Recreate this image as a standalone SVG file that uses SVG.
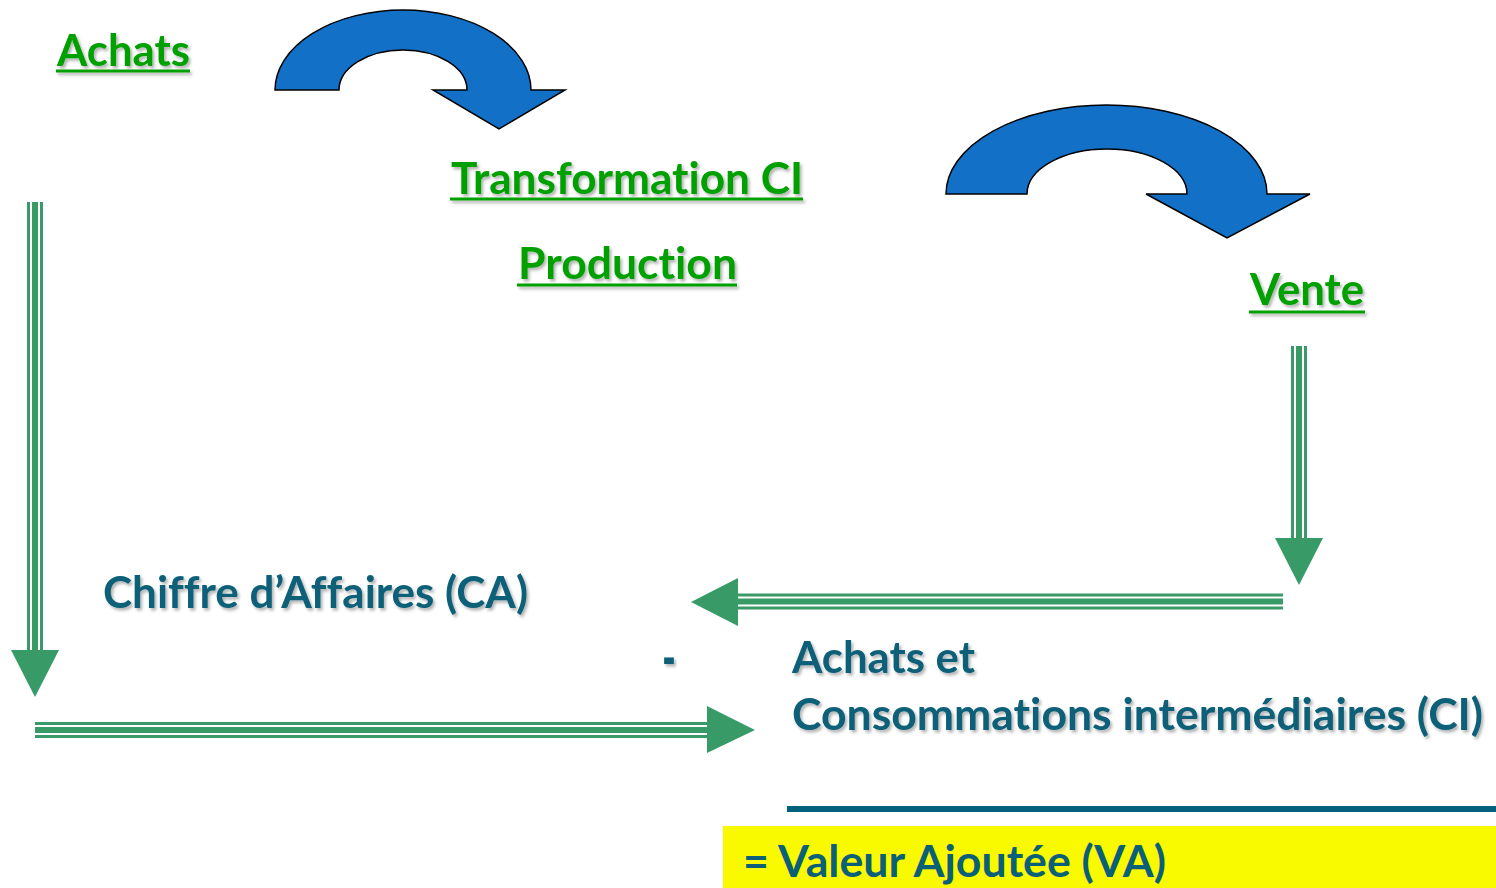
<svg xmlns="http://www.w3.org/2000/svg" width="1496" height="888" viewBox="0 0 1496 888">
<defs>
<filter id="sh" x="-5%" y="-20%" width="110%" height="150%">
<feDropShadow dx="2" dy="2.5" stdDeviation="1.6" flood-color="#000" flood-opacity="0.3"/>
</filter>
</defs>
<style>
.g,.t{font-family:Lato,"Open Sans","Liberation Sans",sans-serif;font-weight:bold;font-size:44px;font-variant-ligatures:none;font-feature-settings:"liga" 0,"clig" 0,"dlig" 0,"calt" 0}
.g{fill:#00A000}
.t{fill:#0A6078}
.u{stroke:#00A000;stroke-width:3}
.blue{fill:#1270C6;stroke:#000;stroke-width:1.5;stroke-linejoin:miter}
.s1{stroke:#389B67;stroke-width:16;fill:none}
.s2{stroke:#fff;stroke-width:10;fill:none}
.s3{stroke:#389B67;stroke-width:6;fill:none}
.hd{fill:#389B67}
</style>
<rect width="1496" height="888" fill="#fff"/>

<g id="curve-arrow-1">
<path class="blue" d="M275,90 A128,80 0 0 1 531,90 L565,90 L499,129 L433,90 L467,90 A64,40 0 0 0 339,90 Z"/>
</g>
<g id="curve-arrow-2">
<path class="blue" d="M946,194 A160.5,89 0 0 1 1267,194 L1310,194 L1227,238 L1146,194 L1187,194 A80,45 0 0 0 1027,194 Z"/>
</g>

<g id="connectors">
<g id="c-left-down">
<line class="s1" x1="35" y1="202" x2="35" y2="652"/>
<line class="s2" x1="35" y1="202" x2="35" y2="652"/>
<line class="s3" x1="35" y1="202" x2="35" y2="652"/>
<polygon class="hd" points="11,650 59,650 35,697"/>
</g>
<g id="c-bottom-right">
<line class="s1" x1="35" y1="730" x2="708" y2="730"/>
<line class="s2" x1="35" y1="730" x2="708" y2="730"/>
<line class="s3" x1="35" y1="730" x2="708" y2="730"/>
<polygon class="hd" points="707,706 707,753 755,730"/>
</g>
<g id="c-vente-down">
<line class="s1" x1="1299" y1="346" x2="1299" y2="540"/>
<line class="s2" x1="1299" y1="346" x2="1299" y2="540"/>
<line class="s3" x1="1299" y1="346" x2="1299" y2="540"/>
<polygon class="hd" points="1275,538 1323,538 1299,585"/>
</g>
<g id="c-ca-left">
<line class="s1" x1="1283" y1="601.5" x2="737" y2="601.5"/>
<line class="s2" x1="1283" y1="601.5" x2="737" y2="601.5"/>
<line class="s3" x1="1283" y1="601.5" x2="737" y2="601.5"/>
<polygon class="hd" points="738,578 738,626 691,602"/>
</g>
</g>

<g id="node-achats" filter="url(#sh)">
<text class="g" x="57" y="66" textLength="133" lengthAdjust="spacingAndGlyphs">Achats</text>
<line class="u" x1="56" y1="71" x2="190" y2="71"/>
</g>
<g id="node-transformation" filter="url(#sh)">
<text class="g" x="451" y="194" textLength="352" lengthAdjust="spacingAndGlyphs">Transformation CI</text>
<line class="u" x1="450" y1="199" x2="803" y2="199"/>
</g>
<g id="node-production" filter="url(#sh)">
<text class="g" x="518" y="279" textLength="219" lengthAdjust="spacingAndGlyphs">Production</text>
<line class="u" x1="517" y1="285" x2="737" y2="285"/>
</g>
<g id="node-vente" filter="url(#sh)">
<text class="g" x="1250" y="305" textLength="114" lengthAdjust="spacingAndGlyphs">Vente</text>
<line class="u" x1="1249" y1="312" x2="1365" y2="312"/>
</g>

<g id="node-ca" filter="url(#sh)">
<text class="t" x="103" y="608" textLength="425" lengthAdjust="spacingAndGlyphs">Chiffre d’Affaires (CA)</text>
</g>
<g id="node-minus" filter="url(#sh)">
<text class="t" x="662" y="680" textLength="14" lengthAdjust="spacingAndGlyphs" style="font-size:64px">-</text>
</g>
<g id="node-ci" filter="url(#sh)">
<text class="t" x="792" y="673" textLength="183" lengthAdjust="spacingAndGlyphs">Achats et</text>
<text class="t" x="792" y="730" textLength="691" lengthAdjust="spacingAndGlyphs">Consommations intermédiaires (CI)</text>
</g>

<g id="result-line">
<rect x="787" y="806" width="709" height="6" fill="#04617D"/>
</g>
<g id="node-va">
<rect x="723" y="826" width="773" height="62" fill="#F9F900"/>
<text class="t" x="743" y="877" textLength="423" lengthAdjust="spacingAndGlyphs">= Valeur Ajoutée (VA)</text>
</g>
</svg>
